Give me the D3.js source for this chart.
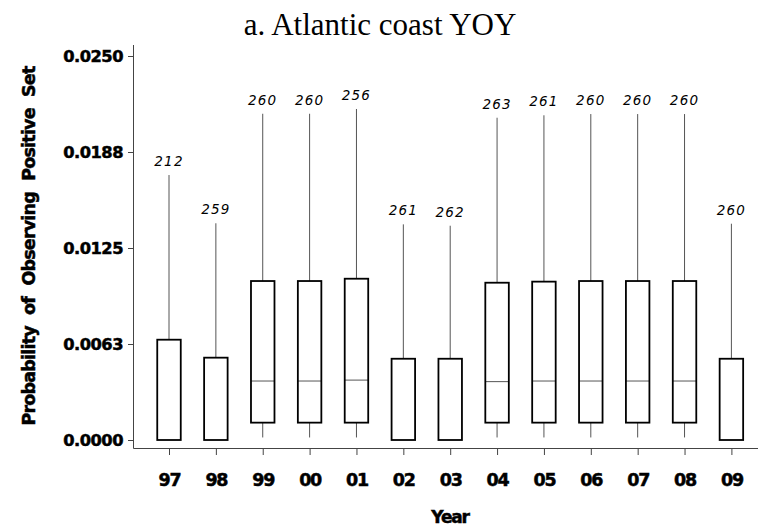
<!DOCTYPE html>
<html>
<head>
<meta charset="utf-8">
<script src="https://cdn.jsdelivr.net/npm/d3@7"></script>
<style>
  body { margin: 0; background: #fff; }
  svg { display: block; }
</style>
</head>
<body>
<script>
// boxplot summary per year
var years   = ['97','98','99','00','01','02','03','04','05','06','07','08','09'];
var counts  = [212, 259, 260, 260, 256, 261, 262, 263, 261, 260, 260, 260, 260];
var whiskLo = [0, 0, 0.0001, 0.0001, 0.0001, 0, 0, 0.0001, 0.0001, 0.0001, 0.0001, 0.0001, 0];
var q1      = [0, 0, 0.00113, 0.00113, 0.00113, 0, 0, 0.00113, 0.00113, 0.00113, 0.00113, 0.00113, 0];
var medians = [0, 0, 0.00384, 0.00384, 0.0039, 0, 0, 0.0038, 0.00384, 0.00384, 0.00384, 0.00384, 0];
var q3      = [0.00653, 0.00536, 0.01035, 0.01035, 0.0105, 0.00529, 0.00529, 0.01024, 0.01031, 0.01035, 0.01035, 0.01035, 0.00529];
var whiskHi = [0.01725, 0.01411, 0.02124, 0.02124, 0.02155, 0.01404, 0.01395, 0.02098, 0.02114, 0.02122, 0.02122, 0.02122, 0.01408];
var yTicks  = [0, 0.00625, 0.0125, 0.01875, 0.025];
var yTickLabels = ['0.0000', '0.0063', '0.0125', '0.0188', '0.0250'];

var width = 761, height = 530;

var svg = d3.select('body').append('svg')
  .attr('width', width)
  .attr('height', height);

var x = d3.scalePoint()
  .domain(years)
  .range([169, 731.4]);

var y = d3.scaleLinear()
  .domain([0, 0.025])
  .range([440, 56]);

var rows = years.map(function(yr, i) {
  return { year: yr, n: counts[i], lo: whiskLo[i], q1: q1[i], med: medians[i], q3: q3[i], hi: whiskHi[i] };
});

function heavy(sel, size, spacing) {
  sel.style('font-family', '"DejaVu Sans", sans-serif')
    .style('font-weight', 'bold')
    .style('font-size', size + 'px')
    .style('letter-spacing', spacing + 'px')
    .attr('fill', '#000')
    .attr('stroke', '#000')
    .attr('stroke-width', 0.5);
}

// title
svg.append('text')
  .attr('x', 380)
  .attr('y', 35)
  .attr('text-anchor', 'middle')
  .style('font-family', '"Liberation Serif", "Times New Roman", serif')
  .style('font-size', '31px')
  .text('a. Atlantic coast YOY');

// axes
var yAxis = svg.append('g')
  .attr('transform', 'translate(133,0)')
  .call(d3.axisLeft(y).tickValues(yTicks).tickSize(5).tickSizeOuter(0)
    .tickFormat(function(d, i) { return yTickLabels[i]; }));
yAxis.select('.domain').remove();

var xAxis = svg.append('g')
  .attr('transform', 'translate(0,448)')
  .call(d3.axisBottom(x).tickSize(7).tickSizeOuter(0));
xAxis.select('.domain').remove();

svg.append('path')
  .attr('d', 'M133.5,45V448.5H758')
  .attr('fill', 'none')
  .attr('stroke', '#444')
  .attr('stroke-width', 1);

svg.selectAll('.tick line').attr('stroke', '#444');

yAxis.selectAll('.tick text')
  .attr('x', -10)
  .call(heavy, 16.3, -0.5);

xAxis.selectAll('.tick text')
  .attr('y', 38)
  .attr('dy', 0)
  .call(heavy, 17.5, -1.2);

// axis titles
svg.append('text')
  .attr('x', 450)
  .attr('y', 523)
  .attr('text-anchor', 'middle')
  .call(heavy, 17, -1.2)
  .text('Year');

svg.append('text')
  .attr('transform', 'translate(35,246) rotate(-90)')
  .attr('text-anchor', 'middle')
  .call(heavy, 17.5, -0.8)
  .style('word-spacing', '6px')
  .text('Probability of Observing Positive Set');

// boxes
var boxW = 23.5;
var g = svg.selectAll('.box')
  .data(rows)
  .enter()
  .append('g')
  .attr('class', 'box');

g.append('line')
  .attr('x1', function(d) { return x(d.year); })
  .attr('x2', function(d) { return x(d.year); })
  .attr('y1', function(d) { return y(d.hi); })
  .attr('y2', function(d) { return y(d.q3); })
  .attr('stroke', '#555')
  .attr('stroke-width', 1);

g.filter(function(d) { return d.q1 > d.lo; })
  .append('line')
  .attr('x1', function(d) { return x(d.year); })
  .attr('x2', function(d) { return x(d.year); })
  .attr('y1', function(d) { return y(d.q1); })
  .attr('y2', function(d) { return y(d.lo) - 1; })
  .attr('stroke', '#555')
  .attr('stroke-width', 1);

g.filter(function(d) { return d.med > d.q1; })
  .append('line')
  .attr('x1', function(d) { return x(d.year) - boxW / 2; })
  .attr('x2', function(d) { return x(d.year) + boxW / 2; })
  .attr('y1', function(d) { return y(d.med); })
  .attr('y2', function(d) { return y(d.med); })
  .attr('stroke', '#555')
  .attr('stroke-width', 1);

g.append('rect')
  .attr('x', function(d) { return x(d.year) - boxW / 2; })
  .attr('y', function(d) { return y(d.q3); })
  .attr('width', boxW)
  .attr('height', function(d) { return y(d.q1) - y(d.q3); })
  .attr('fill', 'none')
  .attr('stroke', '#000')
  .attr('stroke-width', 1.8);

g.append('text')
  .attr('x', function(d) { return x(d.year); })
  .attr('y', function(d) { return y(d.hi) - 9; })
  .attr('text-anchor', 'middle')
  .style('font-family', '"DejaVu Sans", sans-serif')
  .style('font-style', 'italic')
  .style('font-size', '13.5px')
  .style('letter-spacing', '1.2px')
  .text(function(d) { return d.n; });
</script>
</body>
</html>
